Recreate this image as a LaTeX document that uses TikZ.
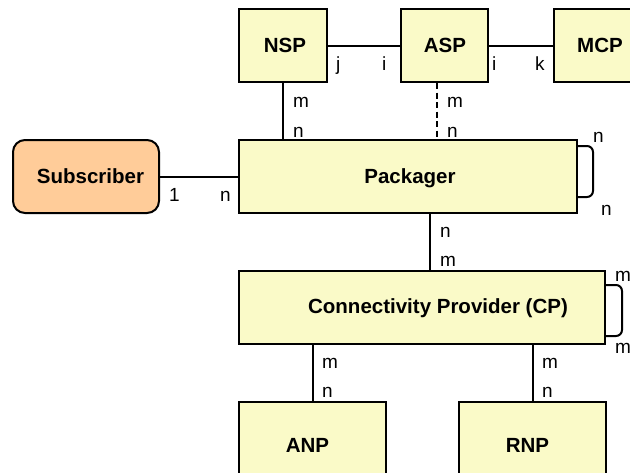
\documentclass[tikz,border=0pt]{standalone}
\usepackage{fontspec}
\setmainfont{Liberation Sans}
\definecolor{boxyellow}{HTML}{FAFAC8}
\definecolor{subpeach}{HTML}{FFCC99}
\begin{document}
\begin{tikzpicture}[x=1pt,y=-1pt,
  box/.style={draw=black, line width=2pt, fill=boxyellow, inner sep=0pt, minimum height=73pt},
  boxtext/.style={font=\fontsize{20.5}{20.5}\selectfont\bfseries, text height=0.72em, text depth=0pt, inner sep=0pt},
  conn/.style={draw=black, line width=2pt},
  conndash/.style={conn, dash pattern=on 6pt off 3.5pt},
  lbl/.style={font=\fontsize{19}{19}\selectfont, anchor=base west, inner sep=0pt}]
\useasboundingbox (0,0) rectangle (630,472);
\clip (0,0) rectangle (630,472);
\fill[white] (0,0) rectangle (630,472);

% boxes
\node[box, minimum width=88pt, label={[boxtext, xshift=2pt, yshift=-3.5pt]center:NSP}] (nsp) at (283,45.5) {};
\node[box, minimum width=87pt, label={[boxtext, xshift=0.5pt, yshift=-3.5pt]center:ASP}] (asp) at (444.5,45.5) {};
\node[box, minimum width=87pt, label={[boxtext, xshift=2.5pt, yshift=-3.5pt]center:MCP}] (mcp) at (597.5,45.5) {};
\node[box, fill=subpeach, rounded corners=12pt, minimum width=146pt, label={[boxtext, xshift=4.5pt, yshift=-3.5pt]center:Subscriber}] (sub) at (86,176.5) {};
\node[box, minimum width=338pt, label={[boxtext, xshift=2pt, yshift=-3.5pt]center:Packager}] (pack) at (408,176.5) {};
\node[box, minimum width=366pt, label={[boxtext, xshift=16pt, yshift=-2.5pt]center:Connectivity Provider (CP)}] (cp) at (422,307.5) {};
\node[box, minimum width=147pt, minimum height=88pt, label={[boxtext, xshift=-5pt, yshift=-3pt]center:ANP}] (anp) at (312.5,446) {};
\node[box, minimum width=147pt, minimum height=88pt, label={[boxtext, xshift=-5pt, yshift=-3pt]center:RNP}] (rnp) at (532.5,446) {};

% connectors
\draw[conn] (nsp) -- (asp);
\draw[conn] (asp) -- (mcp);
\draw[conn] (nsp.south) -- (nsp.south |- pack.north);
\draw[conndash] ([xshift=-7.5pt]asp.south) -- ([xshift=-7.5pt]asp.south |- pack.north);
\draw[conn] (sub) -- (pack);
\draw[conn] ([xshift=22pt]pack.south) -- ([xshift=22pt]pack.south |- cp.north);
\draw[conn] (anp.north) -- (anp.north |- cp.south);
\draw[conn] (rnp.north) -- (rnp.north |- cp.south);
\draw[conn, rounded corners=6pt] ([yshift=-7pt]pack.north east) -- ++(15,0) -- ++(0,51) -- ++(-15,0);
\draw[conn, rounded corners=6pt] ([yshift=-15pt]cp.north east) -- ++(16,0) -- ++(0,51) -- ++(-16,0);

% labels
\node[lbl] (l1) at (336,70) {j};
\node[lbl] (l2) at (382,70) {i};
\node[lbl] (l3) at (492,70) {i};
\node[lbl] (l4) at (535,70) {k};
\node[lbl] (l5) at (293,107) {m};
\node[lbl] (l6) at (293,137) {n};
\node[lbl] (l7) at (447,107) {m};
\node[lbl] (l8) at (447,137) {n};
\node[lbl] (l9) at (169,201) {1};
\node[lbl] (l10) at (220,201) {n};
\node[lbl] (l11) at (593,142) {n};
\node[lbl] (l12) at (601,215) {n};
\node[lbl] (l13) at (440,237) {n};
\node[lbl] (l14) at (440,266) {m};
\node[lbl] (l15) at (615,281) {m};
\node[lbl] (l16) at (615,353) {m};
\node[lbl] (l17) at (322,368) {m};
\node[lbl] (l18) at (322,397) {n};
\node[lbl] (l19) at (542,368) {m};
\node[lbl] (l20) at (542,397) {n};
\end{tikzpicture}
\end{document}
